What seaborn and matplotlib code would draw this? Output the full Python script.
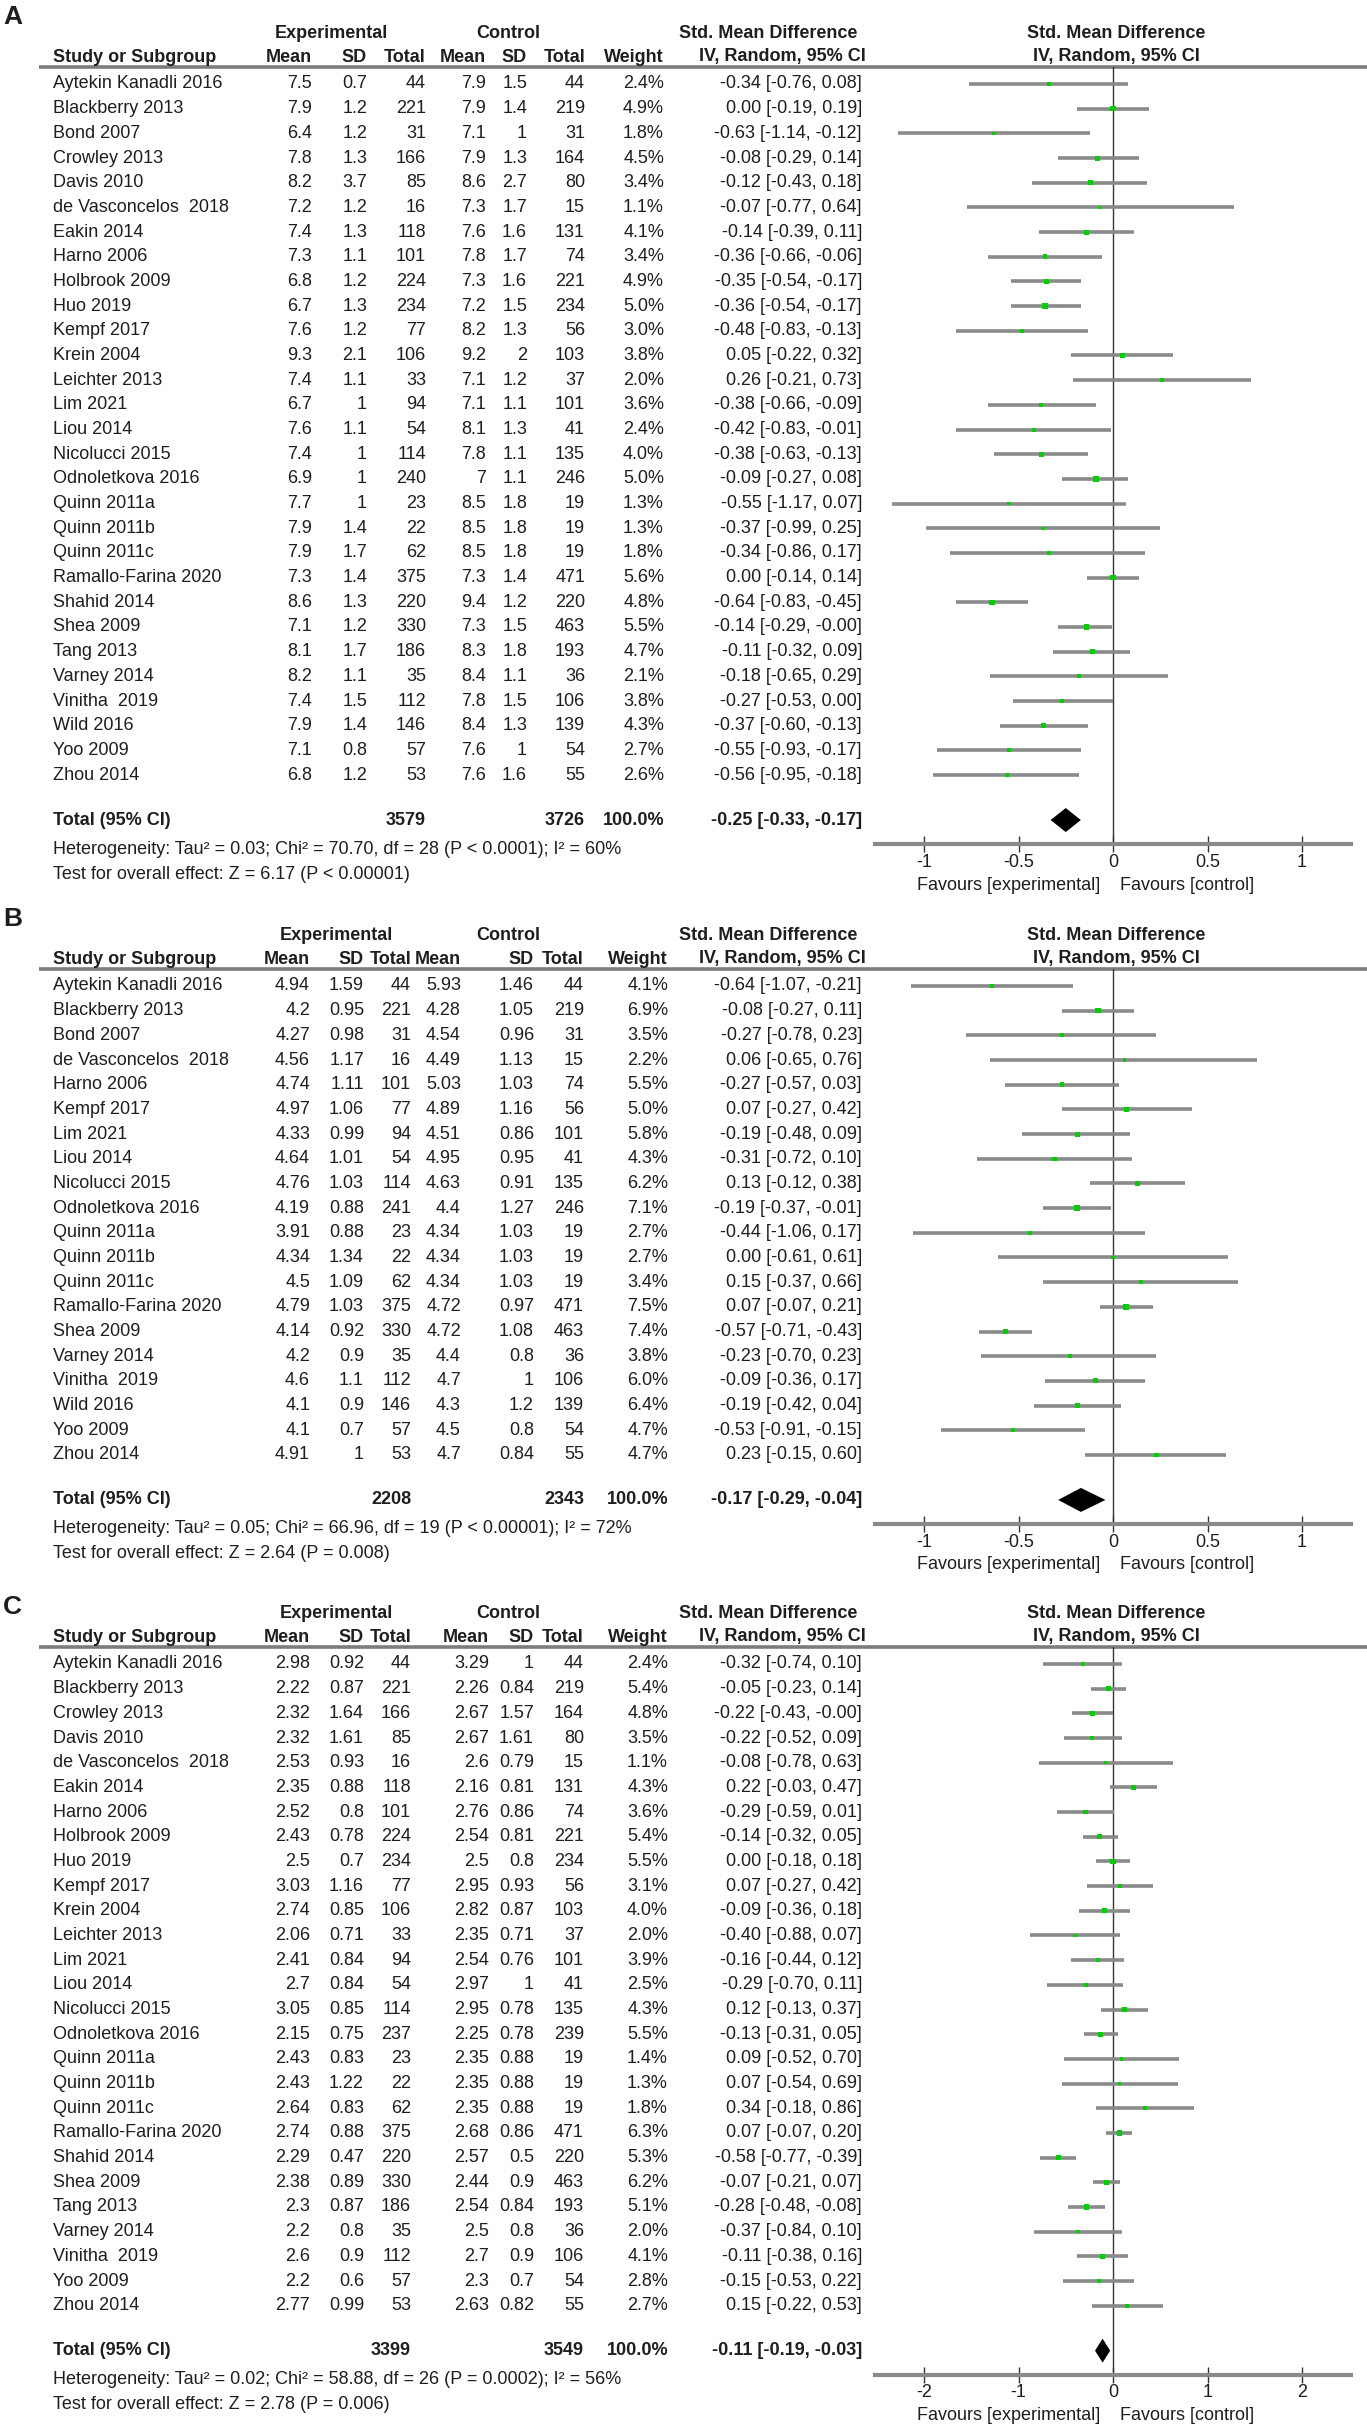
import numpy as np
import pandas as pd
import matplotlib
matplotlib.use("Agg")
import matplotlib.pyplot as plt
import seaborn as sns

# ---------------- Panel A : data ----------------
a_study = ["Aytekin Kanadli 2016", "Blackberry 2013", "Bond 2007", "Crowley 2013", "Davis 2010",
           "de Vasconcelos  2018", "Eakin 2014", "Harno 2006", "Holbrook 2009", "Huo 2019",
           "Kempf 2017", "Krein 2004", "Leichter 2013", "Lim 2021", "Liou 2014", "Nicolucci 2015",
           "Odnoletkova 2016", "Quinn 2011a", "Quinn 2011b", "Quinn 2011c", "Ramallo-Farina 2020",
           "Shahid 2014", "Shea 2009", "Tang 2013", "Varney 2014", "Vinitha  2019", "Wild 2016",
           "Yoo 2009", "Zhou 2014"]
a_exp_mean = [7.5, 7.9, 6.4, 7.8, 8.2, 7.2, 7.4, 7.3, 6.8, 6.7, 7.6, 9.3, 7.4, 6.7, 7.6, 7.4, 6.9,
              7.7, 7.9, 7.9, 7.3, 8.6, 7.1, 8.1, 8.2, 7.4, 7.9, 7.1, 6.8]
a_exp_sd = [0.7, 1.2, 1.2, 1.3, 3.7, 1.2, 1.3, 1.1, 1.2, 1.3, 1.2, 2.1, 1.1, 1, 1.1, 1, 1,
            1, 1.4, 1.7, 1.4, 1.3, 1.2, 1.7, 1.1, 1.5, 1.4, 0.8, 1.2]
a_exp_n = [44, 221, 31, 166, 85, 16, 118, 101, 224, 234, 77, 106, 33, 94, 54, 114, 240,
           23, 22, 62, 375, 220, 330, 186, 35, 112, 146, 57, 53]
a_ctl_mean = [7.9, 7.9, 7.1, 7.9, 8.6, 7.3, 7.6, 7.8, 7.3, 7.2, 8.2, 9.2, 7.1, 7.1, 8.1, 7.8, 7,
              8.5, 8.5, 8.5, 7.3, 9.4, 7.3, 8.3, 8.4, 7.8, 8.4, 7.6, 7.6]
a_ctl_sd = [1.5, 1.4, 1, 1.3, 2.7, 1.7, 1.6, 1.7, 1.6, 1.5, 1.3, 2, 1.2, 1.1, 1.3, 1.1, 1.1,
            1.8, 1.8, 1.8, 1.4, 1.2, 1.5, 1.8, 1.1, 1.5, 1.3, 1, 1.6]
a_ctl_n = [44, 219, 31, 164, 80, 15, 131, 74, 221, 234, 56, 103, 37, 101, 41, 135, 246,
           19, 19, 19, 471, 220, 463, 193, 36, 106, 139, 54, 55]
a_weight = [2.4, 4.9, 1.8, 4.5, 3.4, 1.1, 4.1, 3.4, 4.9, 5.0, 3.0, 3.8, 2.0, 3.6, 2.4, 4.0, 5.0,
            1.3, 1.3, 1.8, 5.6, 4.8, 5.5, 4.7, 2.1, 3.8, 4.3, 2.7, 2.6]
a_smd = [-0.34, 0.00, -0.63, -0.08, -0.12, -0.07, -0.14, -0.36, -0.35, -0.36, -0.48, 0.05, 0.26,
         -0.38, -0.42, -0.38, -0.09, -0.55, -0.37, -0.34, 0.00, -0.64, -0.14, -0.11, -0.18, -0.27,
         -0.37, -0.55, -0.56]
a_lo = [-0.76, -0.19, -1.14, -0.29, -0.43, -0.77, -0.39, -0.66, -0.54, -0.54, -0.83, -0.22, -0.21,
        -0.66, -0.83, -0.63, -0.27, -1.17, -0.99, -0.86, -0.14, -0.83, -0.29, -0.32, -0.65, -0.53,
        -0.60, -0.93, -0.95]
a_hi = [0.08, 0.19, -0.12, 0.14, 0.18, 0.64, 0.11, -0.06, -0.17, -0.17, -0.13, 0.32, 0.73,
        -0.09, -0.01, -0.13, 0.08, 0.07, 0.25, 0.17, 0.14, -0.45, -0.004, 0.09, 0.29, 0.00,
        -0.13, -0.17, -0.18]
a_total = [3579, 3726, -0.25, -0.33, -0.17]
a_het = "Heterogeneity: Tau² = 0.03; Chi² = 70.70, df = 28 (P < 0.0001); I² = 60%"
a_test = "Test for overall effect: Z = 6.17 (P < 0.00001)"
a_ticks = [-1, -0.5, 0, 0.5, 1]
a_ticklabels = ["-1", "-0.5", "0", "0.5", "1"]

# ---------------- Panel B : data ----------------
b_study = ["Aytekin Kanadli 2016", "Blackberry 2013", "Bond 2007", "de Vasconcelos  2018",
           "Harno 2006", "Kempf 2017", "Lim 2021", "Liou 2014", "Nicolucci 2015",
           "Odnoletkova 2016", "Quinn 2011a", "Quinn 2011b", "Quinn 2011c", "Ramallo-Farina 2020",
           "Shea 2009", "Varney 2014", "Vinitha  2019", "Wild 2016", "Yoo 2009", "Zhou 2014"]
b_exp_mean = [4.94, 4.2, 4.27, 4.56, 4.74, 4.97, 4.33, 4.64, 4.76, 4.19, 3.91, 4.34, 4.5, 4.79,
              4.14, 4.2, 4.6, 4.1, 4.1, 4.91]
b_exp_sd = [1.59, 0.95, 0.98, 1.17, 1.11, 1.06, 0.99, 1.01, 1.03, 0.88, 0.88, 1.34, 1.09, 1.03,
            0.92, 0.9, 1.1, 0.9, 0.7, 1]
b_exp_n = [44, 221, 31, 16, 101, 77, 94, 54, 114, 241, 23, 22, 62, 375, 330, 35, 112, 146, 57, 53]
b_ctl_mean = [5.93, 4.28, 4.54, 4.49, 5.03, 4.89, 4.51, 4.95, 4.63, 4.4, 4.34, 4.34, 4.34, 4.72,
              4.72, 4.4, 4.7, 4.3, 4.5, 4.7]
b_ctl_sd = [1.46, 1.05, 0.96, 1.13, 1.03, 1.16, 0.86, 0.95, 0.91, 1.27, 1.03, 1.03, 1.03, 0.97,
            1.08, 0.8, 1, 1.2, 0.8, 0.84]
b_ctl_n = [44, 219, 31, 15, 74, 56, 101, 41, 135, 246, 19, 19, 19, 471, 463, 36, 106, 139, 54, 55]
b_weight = [4.1, 6.9, 3.5, 2.2, 5.5, 5.0, 5.8, 4.3, 6.2, 7.1, 2.7, 2.7, 3.4, 7.5, 7.4, 3.8, 6.0,
            6.4, 4.7, 4.7]
b_smd = [-0.64, -0.08, -0.27, 0.06, -0.27, 0.07, -0.19, -0.31, 0.13, -0.19, -0.44, 0.00, 0.15,
         0.07, -0.57, -0.23, -0.09, -0.19, -0.53, 0.23]
b_lo = [-1.07, -0.27, -0.78, -0.65, -0.57, -0.27, -0.48, -0.72, -0.12, -0.37, -1.06, -0.61,
        -0.37, -0.07, -0.71, -0.70, -0.36, -0.42, -0.91, -0.15]
b_hi = [-0.21, 0.11, 0.23, 0.76, 0.03, 0.42, 0.09, 0.10, 0.38, -0.01, 0.17, 0.61, 0.66, 0.21,
        -0.43, 0.23, 0.17, 0.04, -0.15, 0.60]
b_total = [2208, 2343, -0.17, -0.29, -0.04]
b_het = "Heterogeneity: Tau² = 0.05; Chi² = 66.96, df = 19 (P < 0.00001); I² = 72%"
b_test = "Test for overall effect: Z = 2.64 (P = 0.008)"
b_ticks = [-1, -0.5, 0, 0.5, 1]
b_ticklabels = ["-1", "-0.5", "0", "0.5", "1"]

# ---------------- Panel C : data ----------------
c_study = ["Aytekin Kanadli 2016", "Blackberry 2013", "Crowley 2013", "Davis 2010",
           "de Vasconcelos  2018", "Eakin 2014", "Harno 2006", "Holbrook 2009", "Huo 2019",
           "Kempf 2017", "Krein 2004", "Leichter 2013", "Lim 2021", "Liou 2014", "Nicolucci 2015",
           "Odnoletkova 2016", "Quinn 2011a", "Quinn 2011b", "Quinn 2011c", "Ramallo-Farina 2020",
           "Shahid 2014", "Shea 2009", "Tang 2013", "Varney 2014", "Vinitha  2019", "Yoo 2009",
           "Zhou 2014"]
c_exp_mean = [2.98, 2.22, 2.32, 2.32, 2.53, 2.35, 2.52, 2.43, 2.5, 3.03, 2.74, 2.06, 2.41, 2.7,
              3.05, 2.15, 2.43, 2.43, 2.64, 2.74, 2.29, 2.38, 2.3, 2.2, 2.6, 2.2, 2.77]
c_exp_sd = [0.92, 0.87, 1.64, 1.61, 0.93, 0.88, 0.8, 0.78, 0.7, 1.16, 0.85, 0.71, 0.84, 0.84,
            0.85, 0.75, 0.83, 1.22, 0.83, 0.88, 0.47, 0.89, 0.87, 0.8, 0.9, 0.6, 0.99]
c_exp_n = [44, 221, 166, 85, 16, 118, 101, 224, 234, 77, 106, 33, 94, 54, 114, 237, 23, 22, 62,
           375, 220, 330, 186, 35, 112, 57, 53]
c_ctl_mean = [3.29, 2.26, 2.67, 2.67, 2.6, 2.16, 2.76, 2.54, 2.5, 2.95, 2.82, 2.35, 2.54, 2.97,
              2.95, 2.25, 2.35, 2.35, 2.35, 2.68, 2.57, 2.44, 2.54, 2.5, 2.7, 2.3, 2.63]
c_ctl_sd = [1, 0.84, 1.57, 1.61, 0.79, 0.81, 0.86, 0.81, 0.8, 0.93, 0.87, 0.71, 0.76, 1, 0.78,
            0.78, 0.88, 0.88, 0.88, 0.86, 0.5, 0.9, 0.84, 0.8, 0.9, 0.7, 0.82]
c_ctl_n = [44, 219, 164, 80, 15, 131, 74, 221, 234, 56, 103, 37, 101, 41, 135, 239, 19, 19, 19,
           471, 220, 463, 193, 36, 106, 54, 55]
c_weight = [2.4, 5.4, 4.8, 3.5, 1.1, 4.3, 3.6, 5.4, 5.5, 3.1, 4.0, 2.0, 3.9, 2.5, 4.3, 5.5, 1.4,
            1.3, 1.8, 6.3, 5.3, 6.2, 5.1, 2.0, 4.1, 2.8, 2.7]
c_smd = [-0.32, -0.05, -0.22, -0.22, -0.08, 0.22, -0.29, -0.14, 0.00, 0.07, -0.09, -0.40, -0.16,
         -0.29, 0.12, -0.13, 0.09, 0.07, 0.34, 0.07, -0.58, -0.07, -0.28, -0.37, -0.11, -0.15, 0.15]
c_lo = [-0.74, -0.23, -0.43, -0.52, -0.78, -0.03, -0.59, -0.32, -0.18, -0.27, -0.36, -0.88, -0.44,
        -0.70, -0.13, -0.31, -0.52, -0.54, -0.18, -0.07, -0.77, -0.21, -0.48, -0.84, -0.38, -0.53,
        -0.22]
c_hi = [0.10, 0.14, -0.004, 0.09, 0.63, 0.47, 0.01, 0.05, 0.18, 0.42, 0.18, 0.07, 0.12, 0.11, 0.37,
        0.05, 0.70, 0.69, 0.86, 0.20, -0.39, 0.07, -0.08, 0.10, 0.16, 0.22, 0.53]
c_total = [3399, 3549, -0.11, -0.19, -0.03]
c_het = "Heterogeneity: Tau² = 0.02; Chi² = 58.88, df = 26 (P = 0.0002); I² = 56%"
c_test = "Test for overall effect: Z = 2.78 (P = 0.006)"
c_ticks = [-2, -1, 0, 1, 2]
c_ticklabels = ["-2", "-1", "0", "1", "2"]

# ---------------- style ----------------
sns.set_theme(style="white")
plt.rcParams["font.family"] = ["Liberation Sans", "DejaVu Sans"]

W, H = 1367, 2427
FS = 13.0
TXT = "#1e1e1e"
fig = plt.figure(figsize=(W / 100, H / 100), dpi=100)
ov = fig.add_axes([0, 0, 1, 1])
ov.set_xlim(0, W)
ov.set_ylim(H, 0)
ov.axis("off")

ROW = 24.68


def t(x, y, s, ha="left", bold=False, size=FS):
    ov.text(x, y, s, ha=ha, va="center", fontsize=size, color=TXT,
            fontweight="bold" if bold else "normal")


def panel(label, first, label_off, cols, study, em, esd, en, cm, csd, cn, w, smd, lo, hi,
          total, het, test, ticks, ticklabels, scale):
    n = len(study)
    rows = first + ROW * np.arange(n)
    total_y = rows[-1] + 45
    line_y = first - 17
    axis_y = total_y + 24
    h1 = first - 51
    h2 = first - 27

    # panel letter
    t(3, first - label_off, label, bold=True, size=19)
    # headers
    t(cols["exp_c"], h1, "Experimental", ha="center", bold=True)
    t(cols["ctl_c"], h1, "Control", ha="center", bold=True)
    t(768, h1, "Std. Mean Difference", ha="center", bold=True)
    t(1116, h1, "Std. Mean Difference", ha="center", bold=True)
    t(53, h2, "Study or Subgroup", bold=True)
    for key, lab in [("em", "Mean"), ("esd", "SD"), ("en", "Total"), ("cm", "Mean"),
                     ("csd", "SD"), ("cn", "Total"), ("w", "Weight")]:
        t(cols[key], h2, lab, ha="right", bold=True)
    t(782, h2, "IV, Random, 95% CI", ha="center", bold=True)
    t(1116, h2, "IV, Random, 95% CI", ha="center", bold=True)
    ov.plot([39, W], [line_y, line_y], color="#7c7c7c", lw=2.6, solid_capstyle="butt")

    # table rows
    for i in range(n):
        y = rows[i]
        t(53, y, study[i])
        t(cols["em"], y, f"{em[i]:g}", ha="right")
        t(cols["esd"], y, f"{esd[i]:g}", ha="right")
        t(cols["en"], y, f"{en[i]}", ha="right")
        t(cols["cm"], y, f"{cm[i]:g}", ha="right")
        t(cols["csd"], y, f"{csd[i]:g}", ha="right")
        t(cols["cn"], y, f"{cn[i]}", ha="right")
        t(cols["w"], y, f"{w[i]:.1f}%", ha="right")
        t(862, y, f"{smd[i]:.2f} [{lo[i]:.2f}, {hi[i]:.2f}]", ha="right")

    tn_e, tn_c, t_smd, t_lo, t_hi = total
    t(53, total_y, "Total (95% CI)", bold=True)
    t(cols["en"], total_y, f"{tn_e}", ha="right", bold=True)
    t(cols["cn"], total_y, f"{tn_c}", ha="right", bold=True)
    t(cols["w"], total_y, "100.0%", ha="right", bold=True)
    t(862, total_y, f"{t_smd:.2f} [{t_lo:.2f}, {t_hi:.2f}]", ha="right", bold=True)
    t(53, total_y + 29, het)
    t(53, total_y + 54, test)
    t(1100, total_y + 65, "Favours [experimental]", ha="right")
    t(1120, total_y + 65, "Favours [control]", ha="left")

    # forest axes
    x0, x1, zero = 875, 1351, 1113
    ax = fig.add_axes([x0 / W, 1 - axis_y / H, (x1 - x0) / W, (axis_y - line_y) / H])
    ax.patch.set_alpha(0)
    df = pd.DataFrame({"row": np.arange(n), "smd": smd, "lo": lo, "hi": hi, "w": w})
    ax.hlines(df["row"], df["lo"], df["hi"], color="#8a8a8a", lw=2.6, zorder=2)
    sns.scatterplot(data=df, x="smd", y="row", size="w", sizes=(5, 16), marker="s",
                    color="#00d000", edgecolor="none", legend=False, ax=ax, zorder=3)
    ax.axvline(0, color="#333333", lw=1.0, zorder=1)
    trow = n - 1 + 45 / ROW
    dh = 12 / ROW
    ax.fill([t_lo, t_smd, t_hi, t_smd], [trow, trow - dh, trow, trow + dh], color="black",
            lw=0, zorder=4)
    ax.set_xlim((x0 - zero) / scale, (x1 - zero) / scale)
    ax.set_ylim((axis_y - first) / ROW, (line_y - first) / ROW)
    ax.set_xlabel("")
    ax.set_ylabel("")
    ax.set_yticks([])
    ax.set_xticks(ticks)
    ax.set_xticklabels(ticklabels)
    for sp in ["top", "left", "right"]:
        ax.spines[sp].set_visible(False)
    ax.spines["bottom"].set_color("#8a8a8a")
    ax.spines["bottom"].set_linewidth(3.0)
    ax.tick_params(axis="x", direction="inout", length=12, width=1.0, color="#333333",
                   labelsize=FS, pad=1, labelcolor=TXT, bottom=True)


cols_a = dict(em=312, esd=367, en=426, cm=486, csd=527, cn=585, w=664, exp_c=331, ctl_c=508)
cols_b = dict(em=310, esd=364, en=411, cm=461, csd=534, cn=584, w=668, exp_c=336, ctl_c=508)
cols_c = dict(em=310, esd=364, en=411, cm=489, csd=534, cn=584, w=668, exp_c=336, ctl_c=508)

panel("A", 84, 67, cols_a, a_study, a_exp_mean, a_exp_sd, a_exp_n, a_ctl_mean, a_ctl_sd,
      a_ctl_n, a_weight, a_smd, a_lo, a_hi, a_total, a_het, a_test, a_ticks, a_ticklabels, 189)
panel("B", 986, 67, cols_b, b_study, b_exp_mean, b_exp_sd, b_exp_n, b_ctl_mean, b_ctl_sd,
      b_ctl_n, b_weight, b_smd, b_lo, b_hi, b_total, b_het, b_test, b_ticks, b_ticklabels, 189)
panel("C", 1664, 57, cols_c, c_study, c_exp_mean, c_exp_sd, c_exp_n, c_ctl_mean, c_ctl_sd,
      c_ctl_n, c_weight, c_smd, c_lo, c_hi, c_total, c_het, c_test, c_ticks, c_ticklabels, 94.5)

fig.savefig("out.png", dpi=100, facecolor="white")
